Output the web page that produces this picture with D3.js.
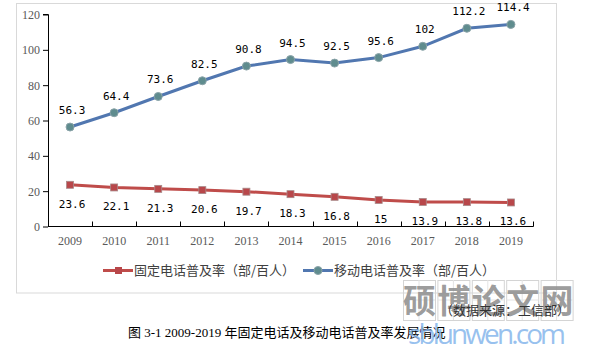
<!DOCTYPE html>
<html><head><meta charset="utf-8">
<script src="https://cdn.jsdelivr.net/npm/d3@7"></script>
<style>body{margin:0;background:#fff}svg{display:block}</style>
</head><body>
<svg id="c" width="591" height="353"></svg>
<script>
const years = ["2009","2010","2011","2012","2013","2014","2015","2016","2017","2018","2019"];
const fixedRate = [23.6,22.1,21.3,20.6,19.7,18.3,16.8,15,13.9,13.8,13.6];
const mobileRate = [56.3,64.4,73.6,82.5,90.8,94.5,92.5,95.6,102,112.2,114.4];
const yTicks = [0,20,40,60,80,100,120];
const seriesNames = ["固定电话普及率（部/百人）","移动电话普及率（部/百人）"];
const sourceText = "（数据来源：工信部）";
const captionText = "图 3-1 2009-2019 年固定电话及移动电话普及率发展情况";
const watermarkChars = ["硕","博","论","文","网"];
const watermarkUrl = "sblunwen.com";

const svg = d3.select("#c");
const x = d3.scaleBand().domain(years).range([48, 533]);
const y = d3.scaleLinear().domain([0,120]).range([226.5, 14.5]);
const red = "#bf4c4a", blue = "#5177b0";

// frame
svg.append("rect").attr("x",16.5).attr("y",3.5).attr("width",540).attr("height",289.5)
  .attr("fill","none").attr("stroke","#d9d9d9");

// y axis
const ya = svg.append("g").attr("transform","translate(48,0)")
  .call(d3.axisLeft(y).tickValues(yTicks).tickSize(5).tickPadding(3).tickFormat(d3.format("d")));
ya.select(".domain").attr("stroke","#000").attr("d","M-5,14.5H0.5V226.5");
ya.selectAll(".tick line").attr("stroke","#000");
ya.selectAll("text").attr("fill","#595959").style("font","12px 'Liberation Serif'");

// x axis
const xa = svg.append("g").attr("transform","translate(0,226.5)")
  .call(d3.axisBottom(x).tickSize(0).tickPadding(10));
xa.select(".domain").attr("stroke","#000").attr("d","M48,0H533.5");
xa.selectAll("text").attr("fill","#595959").style("font","12px 'Liberation Serif'");
xa.selectAll(".bnd").data(years.slice(1).concat(["end"])).enter().append("line")
  .attr("x1",(d,i)=>Math.round(48 + x.bandwidth()*(i+1))+0.5)
  .attr("x2",(d,i)=>Math.round(48 + x.bandwidth()*(i+1))+0.5)
  .attr("y1",0).attr("y2",-5).attr("stroke","#000");

const cx = d => x(d) + x.bandwidth()/2;
const line = d3.line().x(d=>cx(d[0])).y(d=>y(d[1]));

// fixed series
const fData = years.map((d,i)=>[d,fixedRate[i]]);
svg.append("path").datum(fData).attr("d",line).attr("fill","none")
  .attr("stroke",red).attr("stroke-width",3);
svg.selectAll(".fm").data(fData).enter().append("rect")
  .attr("x",d=>cx(d[0])-3.5).attr("y",d=>y(d[1])-3.5).attr("width",7).attr("height",7)
  .attr("fill","#b8474a").attr("stroke","#a88a8a").attr("stroke-width",0.8);
svg.selectAll(".fl").data(fData).enter().append("text")
  .attr("x",d=>cx(d[0])+2).attr("y",d=>y(d[1])+23).attr("text-anchor","middle")
  .style("font","11px 'DejaVu Sans Mono'").attr("fill","#000").text(d=>d[1]);

// mobile series
const mData = years.map((d,i)=>[d,mobileRate[i]]);
svg.append("path").datum(mData).attr("d",line).attr("fill","none")
  .attr("stroke",blue).attr("stroke-width",3);
svg.selectAll(".mm").data(mData).enter().append("circle")
  .attr("cx",d=>cx(d[0])).attr("cy",d=>y(d[1])).attr("r",4)
  .attr("fill","#5f8c8e").attr("stroke","#8aa3a8").attr("stroke-width",1);
svg.selectAll(".ml").data(mData).enter().append("text")
  .attr("x",d=>cx(d[0])+2).attr("y",d=>y(d[1])-13).attr("text-anchor","middle")
  .style("font","11px 'DejaVu Sans Mono'").attr("fill","#000").text(d=>d[1]);

// legend
const lg = svg.append("g").style("font","13px 'Noto Sans CJK SC'");
lg.append("line").attr("x1",103).attr("x2",133).attr("y1",270.5).attr("y2",270.5).attr("stroke",red).attr("stroke-width",3);
lg.append("rect").attr("x",115).attr("y",267).attr("width",7).attr("height",7).attr("fill","#b8474a");
lg.append("text").attr("x",134).attr("y",275).attr("fill","#404040").text(seriesNames[0]);
lg.append("line").attr("x1",303).attr("x2",333).attr("y1",270.5).attr("y2",270.5).attr("stroke",blue).attr("stroke-width",3);
lg.append("circle").attr("cx",318).attr("cy",270.5).attr("r",4).attr("fill","#5f8c8e").attr("stroke","#8aa3a8");
lg.append("text").attr("x",334).attr("y",275).attr("fill","#404040").text(seriesNames[1]);

// watermark boxes
const wm = svg.append("g");
watermarkChars.forEach((c,i)=>{
  const bx = 403 + i*34.4, by = 280, bw = 32, bh = 40;
  wm.append("rect").attr("x",bx+0.5).attr("y",by+0.5).attr("width",bw).attr("height",bh)
    .attr("fill","none").attr("stroke","#d4d4d4");
  wm.append("line").attr("x1",bx+bw/2).attr("x2",bx+bw/2).attr("y1",by).attr("y2",by+bh).attr("stroke","#e4e4e4");
  wm.append("line").attr("x1",bx).attr("x2",bx+bw).attr("y1",by+bh/2).attr("y2",by+bh/2).attr("stroke","#e4e4e4");
  wm.append("text").attr("x",bx+bw/2+0.5).attr("y",by+33).attr("text-anchor","middle")
    .style("font","bold 33px 'Noto Sans CJK SC'").attr("fill","#909090").attr("fill-opacity",0.9).text(c);
});

// source and caption
svg.append("text").attr("x",440).attr("y",315).style("font","13px 'Liberation Serif','Noto Sans CJK SC'")
  .attr("fill","#333").text(sourceText);
svg.append("text").attr("x",128).attr("y",337).style("font","13px 'Liberation Serif','Noto Sans CJK SC'")
  .attr("fill","#000").text(captionText);

svg.append("text").attr("x",408).attr("y",344).style("font","28px 'Open Sans'")
  .attr("fill","#86b6ec").attr("fill-opacity",0.85).attr("textLength",158).text(watermarkUrl);
</script>
</body></html>
